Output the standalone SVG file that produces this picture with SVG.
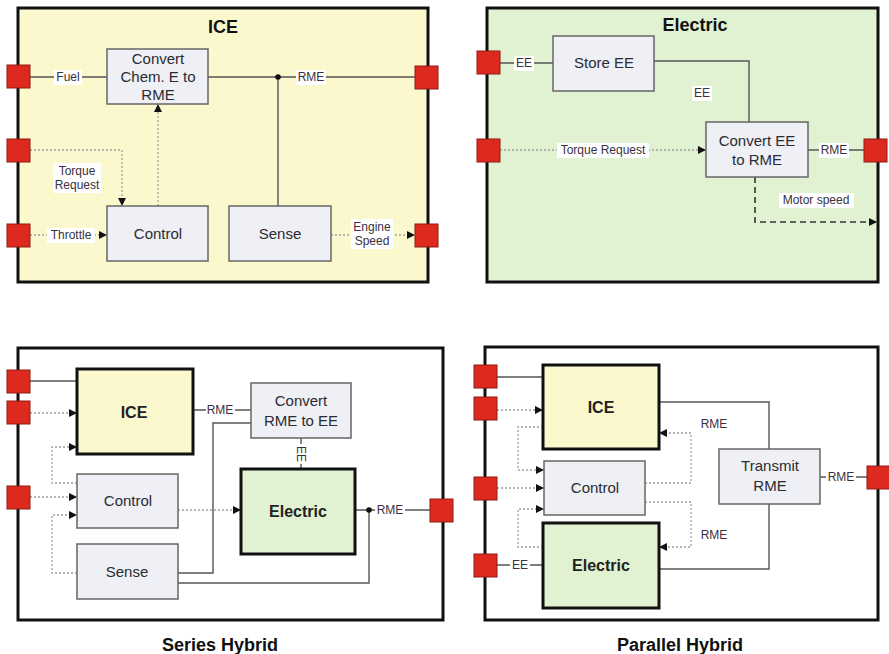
<svg xmlns="http://www.w3.org/2000/svg" width="889" height="654" viewBox="0 0 889 654">
<style>
text{font-family:"Liberation Sans",Arial,sans-serif;fill:#2b2b33;text-anchor:middle}
.frame{stroke:#111;stroke-width:3}
.box{fill:#EEF0F5;stroke:#666;stroke-width:1.5}
.thick{stroke:#111;stroke-width:3}
.yel{fill:#FBF8CD}
.grn{fill:#E1F2D3}
.port{fill:#DE2A1E;stroke:#8E1B12;stroke-width:1}
.bt{font-size:15px}
.big{font-size:16px;font-weight:bold;fill:#222}
.title{font-size:18px;font-weight:bold;fill:#111}
.cap{font-size:18px;font-weight:bold;fill:#111}
.lbl{font-size:12px;fill:#3a3040}
.bg{fill:#fff}
.sol{fill:none;stroke:#555;stroke-width:1.4}
.dot{fill:none;stroke:#a0a0a0;stroke-width:1.3;stroke-dasharray:2 2}
.dash{fill:none;stroke:#333;stroke-width:1.6;stroke-dasharray:6 4}
</style>
<defs>
<marker id="arr" viewBox="0 0 10 10" refX="10" refY="5" markerWidth="9" markerHeight="8" markerUnits="userSpaceOnUse" orient="auto">
<path d="M0,0 L10,5 L0,10 z" fill="#111"/>
</marker>
</defs>

<!-- ICE panel -->
<g id="ice-panel">
<rect x="18" y="8" width="410" height="274" class="frame" fill="#FBF8CD"/>
<text x="223" y="33" class="title">ICE</text>
</g>
<g id="ice-connectors">
<line x1="30" y1="77" x2="107" y2="77" class="sol"/>
<line x1="208" y1="77" x2="415" y2="77" class="sol"/>
<line x1="278" y1="77" x2="278" y2="206" class="sol"/>
<circle cx="278" cy="77" r="2.8" fill="#111"/>
<polyline points="30,150 122,150 122,206" class="dot" marker-end="url(#arr)"/>
<line x1="158" y1="206" x2="158" y2="104" class="dot" marker-end="url(#arr)"/>
<line x1="30" y1="235" x2="107" y2="235" class="dot" marker-end="url(#arr)"/>
<line x1="331" y1="235" x2="415" y2="235" class="dot" marker-end="url(#arr)"/>
<rect x="54" y="70" width="28" height="15" class="bg"/>
<text x="68" y="81" class="lbl">Fuel</text>
<rect x="296" y="70" width="30" height="15" class="bg"/>
<text x="311" y="81" class="lbl">RME</text>
<rect x="53" y="163" width="48" height="30" class="bg"/>
<text x="77" y="175" class="lbl">Torque</text>
<text x="77" y="189" class="lbl">Request</text>
<rect x="47" y="228" width="48" height="15" class="bg"/>
<text x="71" y="239" class="lbl">Throttle</text>
<rect x="351" y="219" width="42" height="30" class="bg"/>
<text x="372" y="231" class="lbl">Engine</text>
<text x="372" y="245" class="lbl">Speed</text>
</g>
<g id="ice-convert"><rect x="107" y="49" width="101" height="55" class="box"/>
<text x="158" y="64" class="bt">Convert</text><text x="158" y="82" class="bt">Chem. E to</text><text x="158" y="100" class="bt">RME</text></g>
<g id="ice-control"><rect x="107" y="206" width="101" height="55" class="box"/><text x="158" y="239" class="bt">Control</text></g>
<g id="ice-sense"><rect x="229" y="206" width="102" height="55" class="box"/><text x="280" y="239" class="bt">Sense</text></g>
<g id="ice-ports">
<rect x="7" y="65" width="23" height="23" class="port"/>
<rect x="7" y="139" width="23" height="23" class="port"/>
<rect x="7" y="224" width="23" height="23" class="port"/>
<rect x="415" y="66" width="23" height="23" class="port"/>
<rect x="415" y="224" width="23" height="23" class="port"/>
</g>

<!-- Electric panel -->
<g id="electric-panel">
<rect x="487" y="8" width="391" height="274" class="frame" fill="#E1F2D3"/>
<text x="695" y="31" class="title">Electric</text>
</g>
<g id="electric-connectors">
<line x1="500" y1="63" x2="553" y2="63" class="sol"/>
<polyline points="654,61 749,61 749,122" class="sol"/>
<line x1="500" y1="150" x2="706" y2="150" class="dot" marker-end="url(#arr)"/>
<line x1="808" y1="150" x2="864" y2="150" class="sol"/>
<polyline points="755,177 755,222 877,222" class="dash" marker-end="url(#arr)"/>
<rect x="514" y="56" width="20" height="15" class="bg"/>
<text x="524" y="67" class="lbl">EE</text>
<rect x="692" y="86" width="20" height="15" class="bg"/>
<text x="702" y="97" class="lbl">EE</text>
<rect x="557" y="143" width="92" height="15" class="bg"/>
<text x="603" y="154" class="lbl">Torque Request</text>
<rect x="819" y="143" width="30" height="15" class="bg"/>
<text x="834" y="154" class="lbl">RME</text>
<rect x="779" y="193" width="75" height="15" class="bg"/>
<text x="816" y="204" class="lbl">Motor speed</text>
</g>
<g id="electric-store"><rect x="553" y="36" width="101" height="55" class="box"/><text x="604" y="68" class="bt">Store EE</text></g>
<g id="electric-convert"><rect x="706" y="122" width="102" height="55" class="box"/>
<text x="757" y="146" class="bt">Convert EE</text><text x="757" y="165" class="bt">to RME</text></g>
<g id="electric-ports">
<rect x="477" y="51" width="23" height="23" class="port"/>
<rect x="477" y="139" width="23" height="23" class="port"/>
<rect x="864" y="139" width="23" height="23" class="port"/>
</g>

<!-- Series Hybrid -->
<g id="series-panel">
<rect x="18" y="348" width="425" height="272" class="frame" fill="#fff"/>
<text x="220" y="651" class="cap">Series Hybrid</text>
</g>
<g id="series-connectors">
<line x1="30" y1="381" x2="77" y2="381" class="sol"/>
<line x1="30" y1="413" x2="77" y2="413" class="dot" marker-end="url(#arr)"/>
<polyline points="77,483 52,483 52,447 77,447" class="dot" marker-end="url(#arr)"/>
<line x1="30" y1="497" x2="77" y2="497" class="dot" marker-end="url(#arr)"/>
<polyline points="77,573 52,573 52,515 77,515" class="dot" marker-end="url(#arr)"/>
<line x1="178" y1="510" x2="241" y2="510" class="dot" marker-end="url(#arr)"/>
<line x1="193" y1="410" x2="251" y2="410" class="sol"/>
<polyline points="178,573 213,573 213,423 251,423" class="sol"/>
<line x1="301" y1="438" x2="301" y2="469" class="sol"/>
<line x1="355" y1="510" x2="430" y2="510" class="sol"/>
<polyline points="178,583 369,583 369,510" class="sol"/>
<circle cx="369" cy="510" r="2.8" fill="#111"/>
<rect x="206" y="403" width="29" height="15" class="bg"/>
<text x="220" y="414" class="lbl">RME</text>
<rect x="294" y="444" width="14" height="20" class="bg"/>
<text x="0" y="0" class="lbl" transform="translate(297,454) rotate(90)">EE</text>
<rect x="375" y="503" width="30" height="15" class="bg"/>
<text x="390" y="514" class="lbl">RME</text>
</g>
<g id="series-ice"><rect x="77" y="369" width="116" height="85" class="yel thick"/><text x="134" y="418" class="big">ICE</text></g>
<g id="series-convert"><rect x="251" y="383" width="100" height="55" class="box"/>
<text x="301" y="406" class="bt">Convert</text><text x="301" y="426" class="bt">RME to EE</text></g>
<g id="series-control"><rect x="77" y="474" width="101" height="54" class="box"/><text x="128" y="506" class="bt">Control</text></g>
<g id="series-sense"><rect x="77" y="544" width="101" height="55" class="box"/><text x="127" y="577" class="bt">Sense</text></g>
<g id="series-electric"><rect x="241" y="469" width="114" height="85" class="grn thick"/><text x="298" y="517" class="big">Electric</text></g>
<g id="series-ports">
<rect x="7" y="370" width="23" height="23" class="port"/>
<rect x="7" y="401" width="23" height="23" class="port"/>
<rect x="7" y="486" width="23" height="23" class="port"/>
<rect x="430" y="499" width="23" height="23" class="port"/>
</g>

<!-- Parallel Hybrid -->
<g id="parallel-panel">
<rect x="485" y="347" width="393" height="273" class="frame" fill="#fff"/>
<text x="680" y="651" class="cap">Parallel Hybrid</text>
</g>
<g id="parallel-connectors">
<line x1="497" y1="377" x2="543" y2="377" class="sol"/>
<line x1="497" y1="410" x2="543" y2="410" class="dot" marker-end="url(#arr)"/>
<polyline points="543,427 518,427 518,470 544,470" class="dot" marker-end="url(#arr)"/>
<line x1="497" y1="488" x2="544" y2="488" class="dot" marker-end="url(#arr)"/>
<polyline points="543,547 518,547 518,509 544,509" class="dot" marker-end="url(#arr)"/>
<polyline points="645,483 691,483 691,433 659,433" class="dot" marker-end="url(#arr)"/>
<polyline points="645,502 691,502 691,547 659,547" class="dot" marker-end="url(#arr)"/>
<polyline points="659,402 769,402 769,449" class="sol"/>
<polyline points="659,569 769,569 769,504" class="sol"/>
<line x1="820" y1="477" x2="867" y2="477" class="sol"/>
<line x1="497" y1="565" x2="543" y2="565" class="sol"/>
<text x="714" y="428" class="lbl">RME</text>
<text x="714" y="539" class="lbl">RME</text>
<rect x="826" y="470" width="30" height="15" class="bg"/>
<text x="841" y="481" class="lbl">RME</text>
<rect x="510" y="558" width="20" height="15" class="bg"/>
<text x="520" y="569" class="lbl">EE</text>
</g>
<g id="parallel-ice"><rect x="543" y="365" width="116" height="84" class="yel thick"/><text x="601" y="413" class="big">ICE</text></g>
<g id="parallel-control"><rect x="544" y="461" width="101" height="54" class="box"/><text x="595" y="493" class="bt">Control</text></g>
<g id="parallel-electric"><rect x="543" y="523" width="116" height="85" class="grn thick"/><text x="601" y="571" class="big">Electric</text></g>
<g id="parallel-transmit"><rect x="719" y="449" width="101" height="55" class="box"/>
<text x="770" y="471" class="bt">Transmit</text><text x="770" y="491" class="bt">RME</text></g>
<g id="parallel-ports">
<rect x="474" y="365" width="23" height="23" class="port"/>
<rect x="474" y="397" width="23" height="23" class="port"/>
<rect x="474" y="477" width="23" height="23" class="port"/>
<rect x="474" y="554" width="23" height="23" class="port"/>
<rect x="867" y="466" width="23" height="23" class="port"/>
</g>
</svg>
